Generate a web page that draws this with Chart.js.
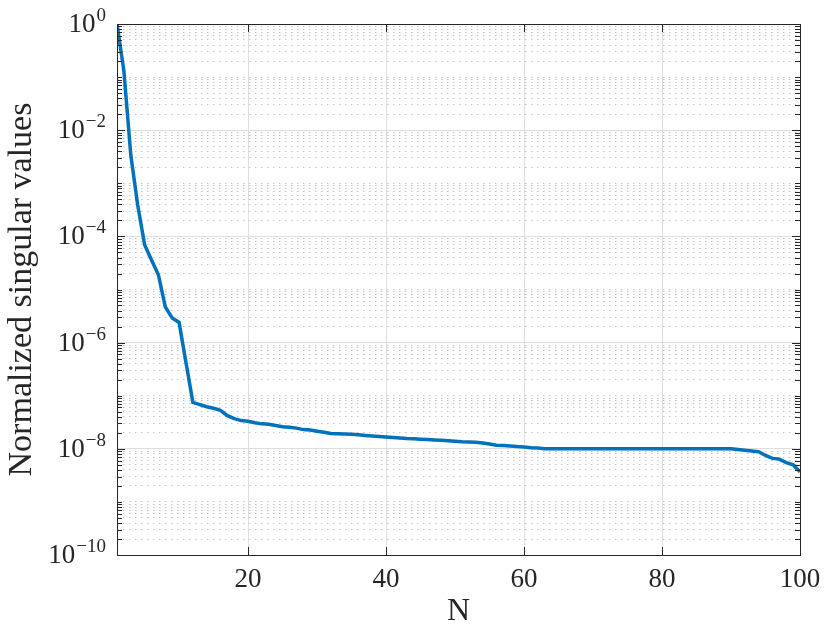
<!DOCTYPE html>
<html>
<head>
<meta charset="utf-8">
<script src="https://cdn.jsdelivr.net/npm/chart.js@4.4.1/dist/chart.umd.min.js"></script>
<style>
  html, body { margin: 0; padding: 0; background: #fff; }
  #wrap { width: 830px; height: 633px; }
</style>
</head>
<body>
<div id="wrap"><canvas id="svChart"></canvas></div>
<script>
// singular values, N = 1..100
const singularValues = [
  1, 1.3e-1, 3.4e-3, 3.9e-4, 7.0e-5, 3.6e-5, 1.9e-5, 4.7e-6, 2.9e-6, 2.4e-6,
  4.2e-7, 7.5e-8, 6.8e-8, 6.2e-8, 5.8e-8, 5.3e-8, 4.2e-8, 3.7e-8, 3.4e-8, 3.3e-8,
  3.1e-8, 2.95e-8, 2.9e-8, 2.75e-8, 2.6e-8, 2.55e-8, 2.45e-8, 2.3e-8, 2.25e-8, 2.15e-8,
  2.05e-8, 1.95e-8, 1.92e-8, 1.9e-8, 1.87e-8, 1.83e-8, 1.78e-8, 1.74e-8, 1.7e-8, 1.67e-8,
  1.63e-8, 1.6e-8, 1.56e-8, 1.54e-8, 1.52e-8, 1.5e-8, 1.47e-8, 1.45e-8, 1.42e-8, 1.39e-8,
  1.36e-8, 1.35e-8, 1.33e-8, 1.28e-8, 1.23e-8, 1.17e-8, 1.15e-8, 1.13e-8, 1.1e-8, 1.08e-8,
  1.05e-8, 1.03e-8, 1e-8, 1e-8, 1e-8, 1e-8, 1e-8, 1e-8, 1e-8, 1e-8,
  1e-8, 1e-8, 1e-8, 1e-8, 1e-8, 1e-8, 1e-8, 1e-8, 1e-8, 1e-8,
  1e-8, 1e-8, 1e-8, 1e-8, 1e-8, 1e-8, 1e-8, 1e-8, 1e-8, 1e-8,
  9.7e-9, 9.4e-9, 9.1e-9, 8.8e-9, 7.5e-9, 6.6e-9, 6.4e-9, 5.5e-9, 5.0e-9, 3.7e-9
];
const xTicks = [20, 40, 60, 80, 100];
const yLabelExponents = [0, -2, -4, -6, -8, -10];
const yMantissas = [1, 2, 3, 4, 5, 6, 7, 8, 9];
const xTitle = 'N';
const yTitle = 'Normalized singular values';

const serif = '"Liberation Serif", "DejaVu Serif", serif';
const axisColor = '#262626';

function isMajorY(v) {
    const e = Math.log10(v);
    const r = Math.round(e);
    return Math.abs(e - r) < 1e-6 && r % 2 === 0;
}

// box, inside tick marks and 10^k labels (MATLAB look)
const axesBox = {
    id: 'axesBox',
    afterDraw(chart) {
        const ctx = chart.ctx;
        const a = chart.chartArea;
        const xs = chart.scales.x;
        const ys = chart.scales.y;
        ctx.save();
        ctx.strokeStyle = axisColor;
        ctx.lineWidth = 1;
        ctx.beginPath();
        xTicks.forEach(v => {
            const px = Math.round(xs.getPixelForValue(v)) + 0.5;
            ctx.moveTo(px, a.bottom); ctx.lineTo(px, a.bottom - 8);
            ctx.moveTo(px, a.top); ctx.lineTo(px, a.top + 8);
        });
        ys.ticks.forEach(t => {
            const py = Math.round(ys.getPixelForValue(t.value)) + 0.5;
            const len = isMajorY(t.value) ? 8 : 5;
            ctx.moveTo(a.left, py); ctx.lineTo(a.left + len, py);
            ctx.moveTo(a.right, py); ctx.lineTo(a.right - len, py);
        });
        ctx.stroke();
        ctx.strokeRect(Math.round(a.left) + 0.5, Math.round(a.top) + 0.5,
            Math.round(a.right - a.left), Math.round(a.bottom - a.top));

        ctx.fillStyle = axisColor;
        ctx.textBaseline = 'middle';
        yLabelExponents.forEach(e => {
            const py = ys.getPixelForValue(Math.pow(10, e));
            const expText = e === 0 ? '0' : '\u2212' + Math.abs(e);
            ctx.font = '19px ' + serif;
            const expW = ctx.measureText(expText).width;
            const right = a.left - 11;
            ctx.textAlign = 'left';
            ctx.fillText(expText, right - expW, py - 8);
            ctx.font = '27px ' + serif;
            ctx.textAlign = 'right';
            ctx.fillText('10', right - expW - 1, py + 1);
        });
        ctx.restore();
    }
};

const points = singularValues.map((v, i) => ({ x: i + 1, y: v }));

new Chart(document.getElementById('svChart'), {
    type: 'line',
    data: {
        datasets: [{
            data: points,
            borderColor: '#0072BD',
            borderWidth: 3.5,
            pointRadius: 0,
            tension: 0,
            fill: false
        }]
    },
    options: {
        responsive: true,
        maintainAspectRatio: false,
        animation: false,
        layout: { padding: { left: 0, top: 24, right: 30, bottom: 0 } },
        plugins: {
            legend: { display: false },
            tooltip: { enabled: false }
        },
        scales: {
            x: {
                type: 'linear',
                min: 1,
                max: 100,
                afterBuildTicks: scale => { scale.ticks = xTicks.map(v => ({ value: v })); },
                afterFit: scale => { scale.height = 78; },
                ticks: {
                    color: axisColor,
                    padding: 9,
                    maxRotation: 0,
                    font: { family: serif, size: 27 }
                },
                grid: { color: '#dedede', lineWidth: 1, drawTicks: false },
                border: { display: false },
                title: {
                    display: true,
                    text: xTitle,
                    color: axisColor,
                    font: { family: serif, size: 32 },
                    padding: { top: 0, bottom: 2 }
                }
            },
            y: {
                type: 'logarithmic',
                min: 1e-10,
                max: 1,
                afterBuildTicks: scale => {
                    const t = [];
                    for (let e = -10; e <= 0; e++) {
                        yMantissas.forEach(m => {
                            const v = m * Math.pow(10, e);
                            if (v <= 1.0000001) t.push({ value: v });
                        });
                    }
                    scale.ticks = t;
                },
                afterFit: scale => { scale.width = 117; },
                ticks: { display: false },
                grid: {
                    drawTicks: false,
                    lineWidth: 1,
                    color: c => isMajorY(c.tick.value) ? '#dedede' : '#c4c4c4'
                },
                border: {
                    display: false,
                    dash: c => (c.tick && isMajorY(c.tick.value)) ? [] : [1.5, 4.5]
                },
                title: {
                    display: true,
                    text: yTitle,
                    color: axisColor,
                    font: { family: serif, size: 34 },
                    padding: { top: 2, bottom: 0 }
                }
            }
        }
    },
    plugins: [axesBox]
});
</script>
</body>
</html>
